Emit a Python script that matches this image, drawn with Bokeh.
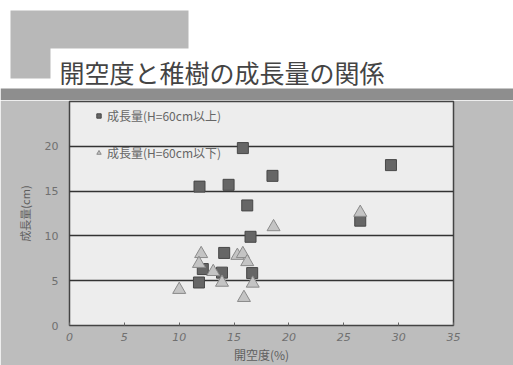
from bokeh.plotting import figure
from bokeh.layouts import column, row
from bokeh.models import Legend, LegendItem, Range1d, FixedTicker
from bokeh.core.properties import value
from bokeh.embed import file_html
from bokeh.resources import INLINE

title_text = "開空度と稚樹の成長量の関係"
x_label = "開空度(%)"
y_label = "成長量(cm)"
series_names = ["成長量(H=60cm以上)", "成長量(H=60cm以下)"]

above_x = [15.8, 18.5, 11.85, 14.5, 16.2, 16.5, 29.3, 26.5, 14.1, 12.15, 13.9, 16.65, 11.8]
above_y = [19.8, 16.7, 15.5, 15.7, 13.4, 9.9, 17.9, 11.7, 8.1, 6.3, 5.9, 5.85, 4.8]
below_x = [18.6, 26.5, 12.0, 15.3, 15.8, 16.2, 11.8, 13.1, 13.9, 16.7, 10.0, 15.9]
below_y = [11.0, 12.6, 8.0, 7.8, 8.0, 7.1, 6.9, 6.0, 4.8, 4.7, 4.0, 3.1]

x_ticks = [0, 5, 10, 15, 20, 25, 30, 35]
y_ticks = [0, 5, 10, 15, 20]
grid_levels = [5, 10, 15, 20]

JP = "Noto Sans CJK JP"

# ---- slide header (title strip) ----
head = figure(width=513, height=100, output_backend="svg", toolbar_location=None,
              x_range=Range1d(0, 513), y_range=Range1d(100, 0),
              min_border=0)
head.axis.visible = False
head.grid.visible = False
head.outline_line_color = None
head.border_fill_color = "white"
head.background_fill_color = "white"
head.quad(left=[10], right=[188], top=[10], bottom=[78], fill_color="#b8b8b8", line_color=None)
head.quad(left=[50], right=[513], top=[48], bottom=[88], fill_color="white", line_color=None)
head.quad(left=[0], right=[513], top=[88], bottom=[100], fill_color="#8e8e8e", line_color=None)
head.text(x=[59], y=[71], text=[title_text], text_font=value(JP), text_font_size="25px",
          text_color="#444444", text_baseline="middle", text_align="left")

# ---- chart ----
p = figure(width=513, height=265, output_backend="svg", toolbar_location=None,
           x_range=Range1d(0, 35), y_range=Range1d(0, 25),
           min_border_left=69, min_border_right=60, min_border_top=1, min_border_bottom=40)

p.border_fill_color = "#bdbdbd"
p.background_fill_color = "#ededed"
p.outline_line_color = "#444444"
p.outline_line_width = 1.5

p.xgrid.visible = False
p.ygrid.ticker = FixedTicker(ticks=grid_levels)
p.ygrid.grid_line_color = "#333333"
p.ygrid.grid_line_width = 1.3

p.xaxis.ticker = FixedTicker(ticks=x_ticks)
p.yaxis.ticker = FixedTicker(ticks=y_ticks)
for ax in (p.xaxis[0], p.yaxis[0]):
    ax.axis_line_color = None
    ax.major_tick_line_color = "#666666"
    ax.major_tick_in = 3
    ax.major_tick_out = 0
    ax.minor_tick_line_color = None
    ax.major_label_text_color = "#707070"
    ax.major_label_text_font = "DejaVu Sans"
    ax.major_label_text_font_size = "11px"
    ax.axis_label_text_font = JP
    ax.axis_label_text_color = "#606060"
    ax.axis_label_text_font_style = "normal"
    ax.axis_label_text_font_size = "12px"
p.xaxis.major_label_text_font_style = "italic"
p.xaxis.major_label_standoff = 7
p.yaxis.major_label_standoff = 11
p.yaxis.major_tick_line_color = None
p.xaxis.axis_label = x_label
p.yaxis.axis_label = y_label
p.yaxis.axis_label_text_font_size = "11px"
p.xaxis.axis_label_standoff = 2
p.yaxis.axis_label_standoff = 9

r_above = p.scatter(above_x, above_y, marker="square", size=11,
                    fill_color="#666666", line_color="#474747", line_width=1)
r_below = p.scatter(below_x, below_y, marker="triangle", size=13,
                    fill_color="#c4c4c4", line_color="#8a8a8a", line_width=1)

legend = Legend(items=[LegendItem(label=series_names[0], renderers=[r_above]),
                       LegendItem(label=series_names[1], renderers=[r_below])],
                location=(24, 164), padding=0, margin=0, spacing=20,
                glyph_width=11, glyph_height=11, label_height=15, label_standoff=3,
                background_fill_alpha=0, border_line_color=None,
                label_text_font=JP, label_text_font_size="12px", label_text_color="#666666")
p.add_layout(legend, "center")

layout = column(row(head, spacing=0), row(p, spacing=0), spacing=0)
open("out.html", "w").write(file_html(layout, INLINE))
